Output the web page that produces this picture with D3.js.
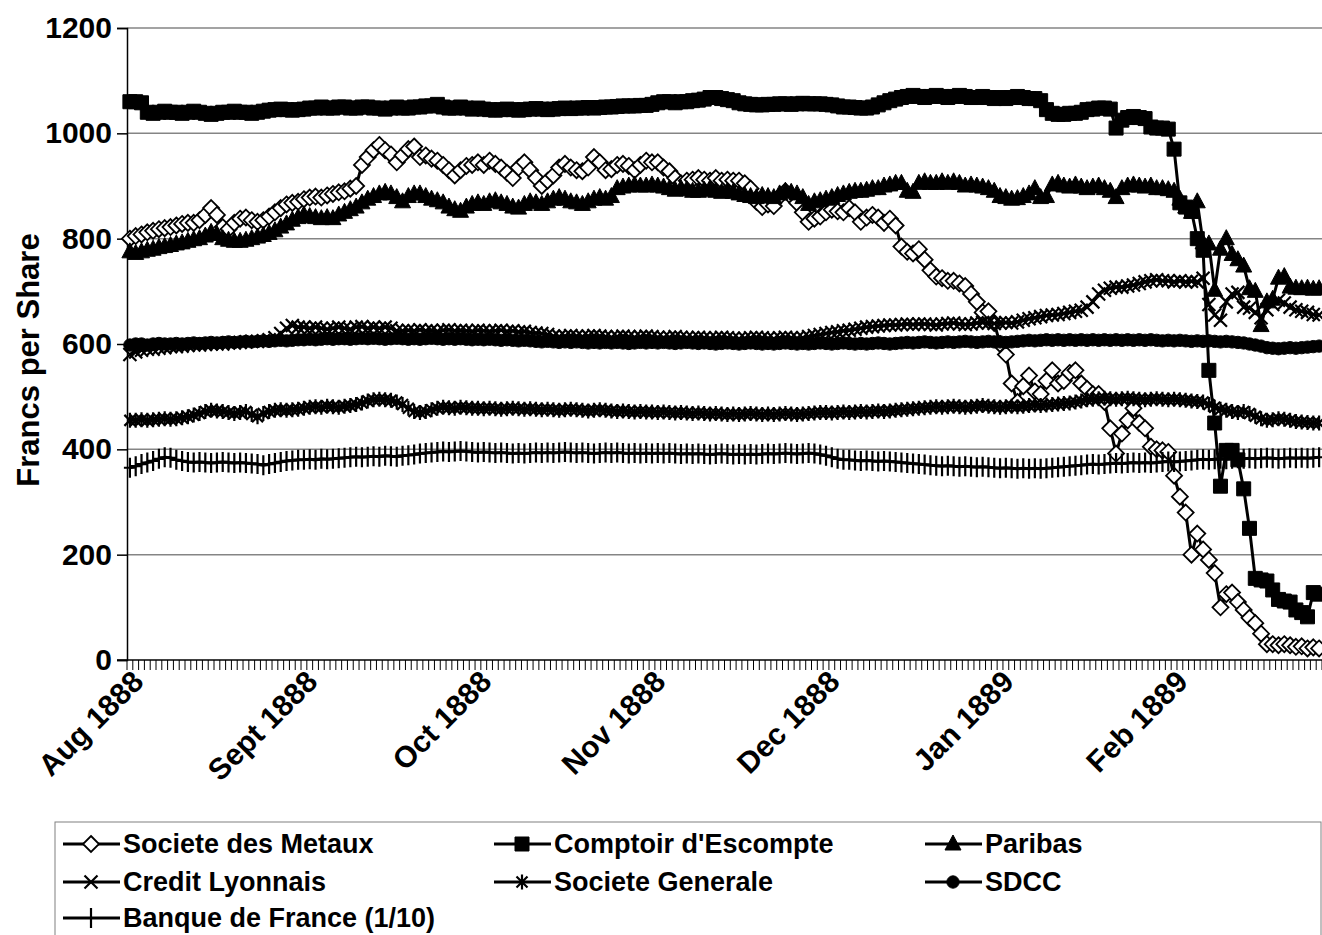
<!DOCTYPE html>
<html><head><meta charset="utf-8">
<script src="https://cdn.jsdelivr.net/npm/d3@7"></script>
<style>body{margin:0;background:#fff}svg{display:block}text{font-family:"Liberation Sans",Arial,sans-serif;font-weight:bold}</style>
</head><body><svg id="c" width="1322" height="935"></svg>
<script>
const monthLabels = ["Aug 1888","Sept 1888","Oct 1888","Nov 1888","Dec 1888","Jan 1889","Feb 1889"];
const labelEvery = 30;
const yTicks = [0,200,400,600,800,1000,1200];

const metaux = [800,805,808,812,815,818,820,822,825,828,830,830,835,845,858,845,822,818,830,838,840,835,832,835,842,850,858,865,868,870,
875,878,880,878,882,885,888,890,895,900,940,955,968,978,968,960,945,958,970,975,955,958,952,948,940,930,920,930,938,940,
945,940,948,942,935,925,915,935,945,930,915,900,910,920,935,942,935,930,928,935,955,945,930,932,940,942,938,930,940,948,
945,945,935,928,915,905,910,912,915,912,910,915,910,912,910,910,905,895,870,860,865,862,880,890,880,868,850,832,838,842,
850,855,852,850,858,850,832,840,845,840,830,838,825,785,775,772,780,760,740,728,725,720,720,715,710,695,680,660,662,640,
600,580,525,490,520,540,510,505,530,550,525,530,545,550,525,515,505,505,490,440,392,430,455,478,450,440,405,400,398,395,
350,310,280,200,240,210,190,165,100,125,128,110,95,80,70,50,30,30,28,30,28,25,26,22,24,22];

const comptoir = [1060,1060,1058,1040,1038,1040,1042,1040,1040,1038,1040,1042,1040,1038,1036,1038,1040,1040,1042,1040,1040,1038,1040,1042,1044,1045,1046,1045,1044,1045,
1046,1048,1048,1050,1048,1048,1050,1050,1048,1048,1050,1050,1048,1048,1046,1048,1050,1048,1048,1050,1050,1052,1052,1055,1050,1048,1048,1050,1048,1046,
1048,1046,1045,1044,1045,1046,1045,1044,1045,1046,1047,1046,1045,1046,1047,1048,1047,1048,1048,1049,1048,1049,1050,1050,1051,1052,1052,1052,1053,1053,
1055,1058,1060,1060,1058,1060,1060,1062,1063,1065,1068,1068,1066,1064,1062,1058,1056,1055,1054,1054,1055,1055,1056,1056,1055,1056,1057,1056,1056,1056,
1055,1054,1052,1050,1050,1049,1048,1048,1050,1054,1058,1062,1065,1068,1070,1072,1070,1068,1070,1072,1070,1068,1070,1072,1070,1068,1068,1070,1068,1066,
1068,1066,1068,1070,1068,1066,1066,1062,1045,1038,1036,1036,1038,1038,1040,1045,1046,1048,1048,1046,1010,1025,1030,1032,1030,1028,1012,1010,1010,1008,
970,868,860,852,800,778,550,450,330,398,398,380,325,250,155,152,150,133,115,112,110,95,90,82,128,125];

const paribas = [775,772,775,778,780,783,785,787,790,792,795,798,800,805,812,808,800,797,795,795,797,800,803,806,810,815,822,828,835,840,
845,842,840,838,840,838,845,850,855,860,868,875,880,885,888,885,878,870,880,885,885,880,875,872,868,860,855,852,860,865,
868,865,870,872,868,865,860,858,865,870,868,865,870,875,878,875,870,868,865,870,875,878,875,880,895,898,900,902,900,900,
902,900,898,895,892,895,893,890,890,892,895,890,888,890,888,885,882,880,878,882,880,878,885,890,888,885,878,865,870,872,
875,878,882,885,888,890,890,892,895,895,900,902,905,905,890,888,905,908,905,905,908,905,908,905,900,902,900,898,895,890,
880,878,875,876,880,885,895,878,880,902,905,900,898,902,898,895,898,900,895,890,878,895,900,902,900,898,900,895,895,893,
890,875,860,850,870,792,790,702,780,800,770,760,748,705,700,635,680,685,725,728,708,706,705,706,704,705];

const lyonnais = [580,585,588,590,590,592,593,595,595,596,597,598,598,599,600,600,600,602,602,603,604,605,605,606,608,612,620,630,635,632,
632,630,632,630,628,630,632,630,628,632,633,630,632,630,632,630,625,625,626,625,627,625,626,624,626,627,625,626,625,624,
626,625,624,625,626,624,625,623,624,622,621,620,618,615,614,615,616,615,614,615,616,615,614,613,614,615,614,613,614,615,
614,613,612,613,614,613,612,612,613,612,611,612,613,612,611,610,611,612,613,612,611,610,612,613,612,611,612,614,616,618,
620,622,623,625,626,628,630,632,633,634,635,636,636,637,638,637,638,638,637,636,638,639,640,638,637,638,640,641,640,639,
640,641,640,642,645,648,650,652,654,655,656,658,660,662,664,670,680,695,702,706,708,708,710,712,715,718,720,722,720,720,
718,720,718,719,718,725,675,655,645,680,695,698,670,668,660,650,665,675,683,678,670,665,662,660,656,655];

const generale = [455,455,456,455,456,457,458,457,458,460,462,465,468,472,474,473,472,470,468,470,472,466,462,468,472,474,475,474,475,476,
478,480,481,480,482,481,480,482,483,485,488,492,494,495,494,493,490,485,478,472,470,472,475,478,480,479,478,480,479,478,
478,477,478,477,476,477,478,477,476,477,476,475,476,475,474,475,476,475,474,473,474,475,474,473,472,473,472,471,472,471,
471,470,471,470,469,470,469,468,469,468,467,468,467,466,467,466,467,468,467,466,467,466,467,468,467,466,467,468,469,470,
470,469,470,471,470,471,472,471,472,473,472,473,474,475,476,477,478,479,480,481,480,481,482,481,480,481,482,483,482,481,
480,481,482,481,482,483,484,483,484,485,486,487,488,490,492,494,495,496,497,496,495,496,497,496,495,494,495,496,495,494,
495,494,493,492,491,490,485,480,476,474,472,470,472,468,463,458,455,456,458,457,455,453,452,451,450,450];

const sdcc = [598,600,600,598,600,601,600,600,601,600,601,602,601,602,603,602,603,604,603,604,605,604,605,606,605,606,607,606,607,608,
608,609,608,609,610,609,610,610,609,610,611,610,611,610,609,610,611,610,609,610,609,610,611,610,609,610,609,610,609,608,
609,608,609,608,607,608,607,606,607,606,605,604,605,604,603,604,603,604,603,602,603,602,603,602,603,602,601,602,603,602,
603,602,603,602,601,602,603,602,601,602,601,600,601,602,601,600,601,602,601,600,601,600,601,602,601,600,601,600,601,602,
601,600,601,602,601,600,601,600,601,602,601,600,601,602,603,602,603,604,603,602,603,604,603,604,605,604,603,604,605,604,
604,603,604,605,606,607,606,607,608,607,608,607,608,607,608,607,608,607,608,607,608,607,608,607,608,607,608,607,606,607,
606,607,606,605,606,605,606,605,604,605,604,603,602,600,598,596,593,592,591,592,593,592,593,594,595,596];

const banque = [365,368,372,375,378,382,385,384,380,378,376,375,376,375,374,375,376,375,374,375,374,373,372,370,372,374,376,378,379,380,
380,381,380,382,381,382,383,384,385,386,385,386,387,386,388,387,386,388,389,390,392,393,394,395,396,395,396,397,396,395,
394,395,394,393,394,393,392,393,392,393,394,393,394,393,394,395,394,393,394,393,392,393,394,393,394,393,392,393,392,393,
392,393,392,393,392,391,392,391,392,391,390,391,392,391,390,391,390,391,390,391,392,391,392,393,392,391,392,393,392,390,
388,385,382,380,380,379,378,379,378,377,378,377,376,375,374,373,372,371,370,369,368,369,368,367,368,367,366,367,366,365,
364,365,364,363,364,363,364,363,364,365,366,367,368,369,370,371,372,371,372,373,374,373,374,375,374,375,374,375,376,377,
376,377,378,379,380,381,380,381,382,381,382,383,382,383,382,383,384,383,382,383,384,383,384,383,384,385];

const seriesNames = ["Societe des Metaux","Comptoir d'Escompte","Paribas","Credit Lyonnais","Societe Generale","SDCC","Banque de France (1/10)"];
const seriesValues = [metaux, comptoir, paribas, lyonnais, generale, sdcc, banque];
const seriesMarkers = ["diamond","square","triangle","x","star","circle","plus"];

const N = d3.max(seriesValues, s => s.length);
const svg = d3.select("#c");
const L = 127, R = 1322, T = 28, B = 660;
const x = d3.scaleBand().domain(d3.range(N)).range([L, R]).padding(0);
const cx = i => x(i) + x.bandwidth()/2;
const y = d3.scaleLinear().domain([0,1200]).range([B, T]);
const FONT = "'Liberation Sans',Arial,sans-serif";

// gridlines
svg.append("g").selectAll("line").data(yTicks.filter(v=>v>0)).join("line")
  .attr("x1", L).attr("x2", R).attr("y1", d=>y(d)).attr("y2", d=>y(d))
  .attr("stroke", "#858585").attr("stroke-width", 1.5);

// y axis
const ya = svg.append("g").attr("transform", `translate(${L},0)`)
  .call(d3.axisLeft(y).tickValues(yTicks).tickSize(10).tickPadding(5).tickFormat(d3.format("d")));
ya.select(".domain").attr("stroke","#000").attr("stroke-width",1.5);
ya.selectAll(".tick line").attr("stroke","#000").attr("stroke-width",1.5);
ya.selectAll(".tick text").attr("font-size", 30).attr("fill","#000")
  .style("font-family",FONT).style("font-weight","bold");

// x axis line & ticks
svg.append("line").attr("x1", L-10).attr("x2", R).attr("y1", B).attr("y2", B).attr("stroke","#000").attr("stroke-width",1.5);
svg.append("g").selectAll("line").data(d3.range(N+1)).join("line")
  .attr("x1", i => i<N ? x(i) : R).attr("x2", i => i<N ? x(i) : R)
  .attr("y1", B).attr("y2", B+10).attr("stroke","#000").attr("stroke-width",1);

// x labels
svg.append("g").selectAll("text").data(monthLabels).join("text")
  .attr("transform", (d,k) => `translate(${cx(k*labelEvery)+8},${B+16}) rotate(-45)`)
  .attr("text-anchor","end").attr("dy","0.35em").attr("font-size",30).text(d=>d);

// y title
svg.append("text").attr("transform", `translate(28,360) rotate(-90)`)
  .attr("text-anchor","middle").attr("dy","0.35em").attr("font-size",31).text("Francs per Share");

// markers
function markerPath(t){
  switch(t){
    case "diamond": return "M0,-8L8,0L0,8L-8,0Z";
    case "square": return "M-7,-7H7V7H-7Z";
    case "triangle": return "M0,-9L8,6L-8,6Z";
    case "x": return "M-6.5,-6.5L6.5,6.5M-6.5,6.5L6.5,-6.5";
    case "star": return "M-5.5,-5.5L5.5,5.5M-5.5,5.5L5.5,-5.5M0,-7.5V7.5";
    case "circle": return d3.symbol(d3.symbolCircle, 120)();
    case "plus": return "M0,-10V10M-6,0H6";
  }
}
function markerStyle(sel, t){
  const filled = (t==="square"||t==="triangle"||t==="circle");
  sel.attr("fill", t==="diamond" ? "#fff" : (filled ? "#000" : "none"))
     .attr("stroke","#000")
     .attr("stroke-width", t==="diamond" ? 1.8 : (filled ? 1 : 2.2));
}

const line = d3.line().x((d,i)=>cx(i)).y(d=>y(d));
seriesValues.forEach((vals, s) => {
  const g = svg.append("g");
  g.append("path").datum(vals).attr("d", line).attr("fill","none").attr("stroke","#000").attr("stroke-width",3);
  g.selectAll("path.m").data(vals).join("path").attr("class","m")
    .attr("transform",(d,i)=>`translate(${cx(i)},${y(d)})`)
    .attr("d", markerPath(seriesMarkers[s])).call(markerStyle, seriesMarkers[s]);
});

// legend
const lg = svg.append("g");
lg.append("rect").attr("x",55).attr("y",822).attr("width",1266).attr("height",130)
  .attr("fill","#fff").attr("stroke","#808080").attr("stroke-width",1);
const colX = [63, 494, 925], rowY = [844, 882, 918];
seriesNames.forEach((name, s) => {
  const cxl = colX[s%3], cyl = rowY[Math.floor(s/3)];
  const it = lg.append("g");
  it.append("line").attr("x1",cxl).attr("x2",cxl+57).attr("y1",cyl).attr("y2",cyl).attr("stroke","#000").attr("stroke-width",3);
  it.append("path").attr("transform",`translate(${cxl+28},${cyl})`).attr("d",markerPath(seriesMarkers[s])).call(markerStyle, seriesMarkers[s]);
  it.append("text").attr("x",cxl+60).attr("y",cyl).attr("dy","0.35em").attr("font-size",27).text(name);
});
</script></body></html>
